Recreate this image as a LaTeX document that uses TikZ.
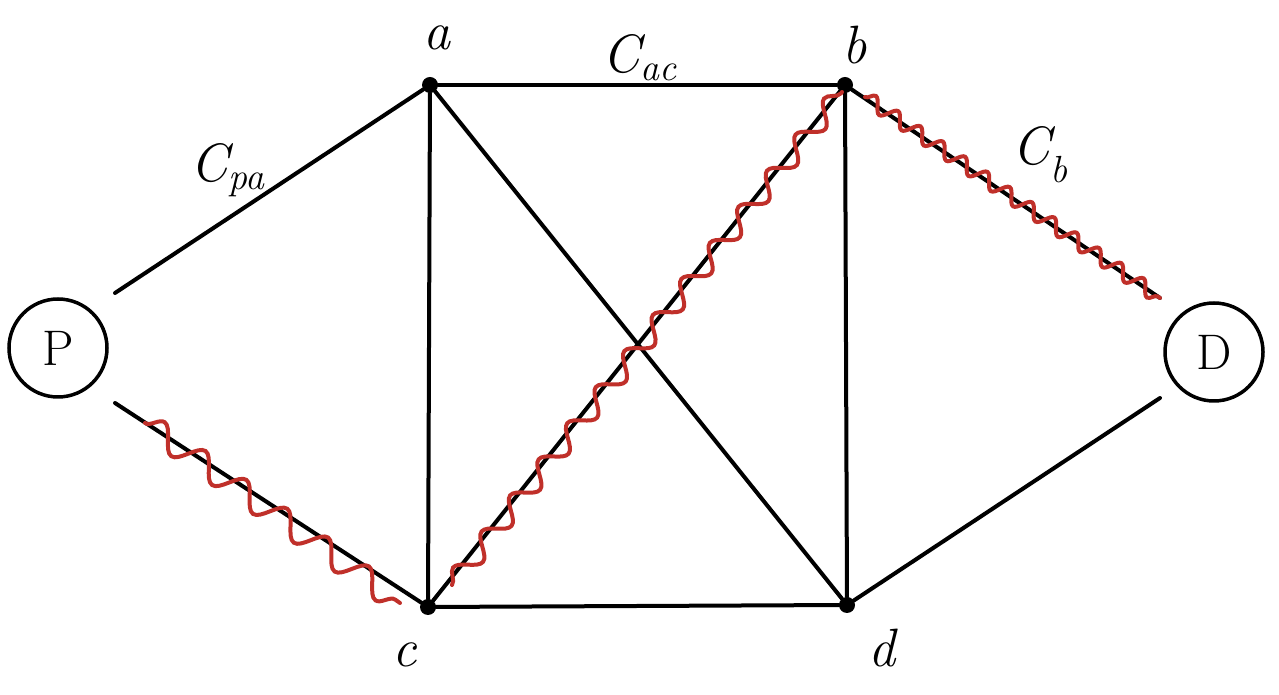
\documentclass[tikz,border=0pt]{standalone}
\usepackage{fontspec}
\usetikzlibrary{decorations.pathmorphing}
\definecolor{wavered}{HTML}{C0302A}
\begin{document}
\begin{tikzpicture}[x=1pt,y=1pt,
  edge/.style={line width=4pt,line cap=round},
  vtx/.style={circle,fill=black,inner sep=0pt,minimum size=16pt},
  term/.style={circle,draw,line width=3.5pt,minimum size=98pt,inner sep=0pt,font=\fontsize{50}{60}\selectfont},
  lbl/.style={font=\fontsize{54}{64}\selectfont\itshape},
  wave/.style={wavered,line width=4pt,line cap=round,decorate,decoration={snake,amplitude=#1}},
  wave/.default=10pt]
\useasboundingbox (0,0) rectangle (1279,695);
\node[term] (P) at (58,347) {P};
\node[term] (D) at (1214,343) {D};
\node[vtx] (a) at (430,610) {};
\node[vtx] (b) at (845,610) {};
\node[vtx] (c) at (428,88) {};
\node[vtx] (d) at (847,90) {};
\coordinate (pa) at (115,402);
\coordinate (pc) at (115,292);
\coordinate (bd) at (1160,397);
\coordinate (dd) at (1160,297);
\draw[edge] (pa) -- (a);
\draw[edge] (pc) -- (c);
\draw[edge] (a) -- (b);
\draw[edge] (a) -- (c);
\draw[edge] (a) -- (d);
\draw[edge] (c) -- (b);
\draw[edge] (b) -- (d);
\draw[edge] (c) -- (d);
\draw[edge] (b) -- (bd);
\draw[edge] (dd) -- (d);
\coordinate (w1s) at (145,272);
\coordinate (w1e) at (400,92);
\coordinate (w2s) at (452,110);
\coordinate (w2e) at (842,603);
\coordinate (w3s) at (865,598);
\begin{scope}[x=1cm,y=1cm]
\draw[wave={12pt},decoration={segment length=50pt}] (w1s) -- (w1e);
\draw[wave={10pt},decoration={segment length=46pt}] (w2s) -- (w2e);
\draw[wave={7pt},decoration={segment length=27pt}] (w3s) -- (bd);
\end{scope}
\node[lbl] (la) at (437,657) {a};
\node[lbl] (lb) at (855,650) {b};
\node[lbl] (lc) at (405,40) {c};
\node[lbl] (ld) at (882,47) {d};
\node[lbl] (lpa) at (228,525) {C\textsubscript{pa}};
\node[lbl] (lac) at (640,637) {C\textsubscript{ac}};
\node[lbl] (lcb) at (1040,540) {C\textsubscript{b}};
\end{tikzpicture}
\end{document}
